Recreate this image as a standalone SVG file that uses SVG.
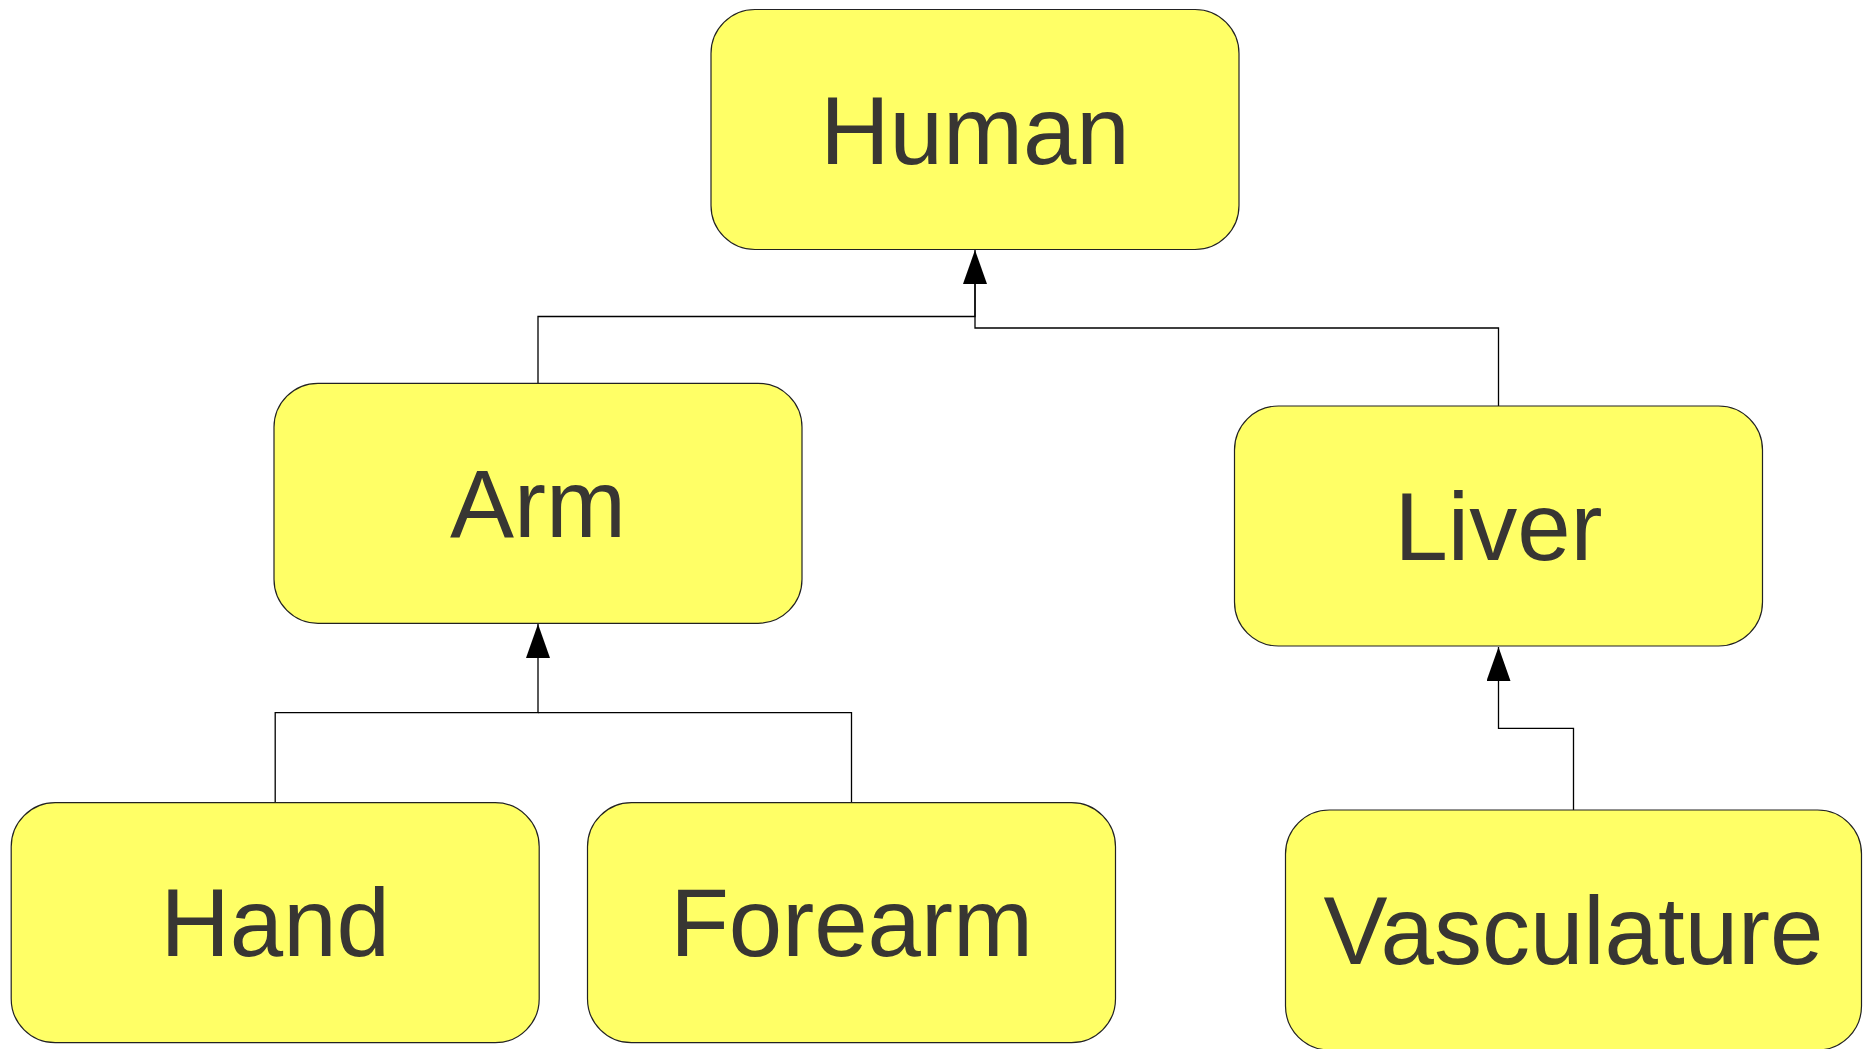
<svg xmlns="http://www.w3.org/2000/svg" width="1873" height="1049" viewBox="0 0 1873 1049">
<style>
.box{fill:#ffff66;stroke:#222;stroke-width:1.2}
.lbl{font-family:"Liberation Sans",Arial,sans-serif;font-size:96px;fill:#383633;text-anchor:middle}
.con{fill:none;stroke:#000;stroke-width:1.3}
</style>
<defs>
<marker id="arr" markerUnits="userSpaceOnUse" markerWidth="34" markerHeight="24" viewBox="0 0 34 24" refX="34" refY="12" orient="auto">
<path d="M0,0 L34,12 L0,24 z" fill="#000"/>
</marker>
</defs>
<rect width="1873" height="1049" fill="#fff"/>
<g id="connectors">
<path class="con" d="M538 383.3 V316.5 H975 V250" marker-end="url(#arr)"/>
<path class="con" d="M1498.5 406 V328 H975 V283"/>
<path class="con" d="M275.2 802.7 V712.7 H538 V624" marker-end="url(#arr)"/>
<path class="con" d="M851.5 802.7 V712.7 H538"/>
<path class="con" d="M1573.5 810 V728.3 H1498.5 V647" marker-end="url(#arr)"/>
</g>
<g id="human">
<rect class="box" x="711" y="9.5" width="528" height="240" rx="44" ry="44"/>
<text class="lbl" x="975" y="164">Human</text>
</g>
<g id="arm">
<rect class="box" x="274" y="383.3" width="528" height="240" rx="44" ry="44"/>
<text class="lbl" x="538" y="537">Arm</text>
</g>
<g id="liver">
<rect class="box" x="1234.5" y="406" width="528" height="240" rx="44" ry="44"/>
<text class="lbl" x="1498.5" y="560">Liver</text>
</g>
<g id="hand">
<rect class="box" x="11.2" y="802.7" width="528" height="240" rx="44" ry="44"/>
<text class="lbl" x="275.2" y="956">Hand</text>
</g>
<g id="forearm">
<rect class="box" x="587.5" y="802.7" width="528" height="240" rx="44" ry="44"/>
<text class="lbl" x="851.5" y="956">Forearm</text>
</g>
<g id="vasculature">
<rect class="box" x="1285.5" y="810" width="576" height="240" rx="44" ry="44"/>
<text class="lbl" x="1573.5" y="963.5">Vasculature</text>
</g>
</svg>
